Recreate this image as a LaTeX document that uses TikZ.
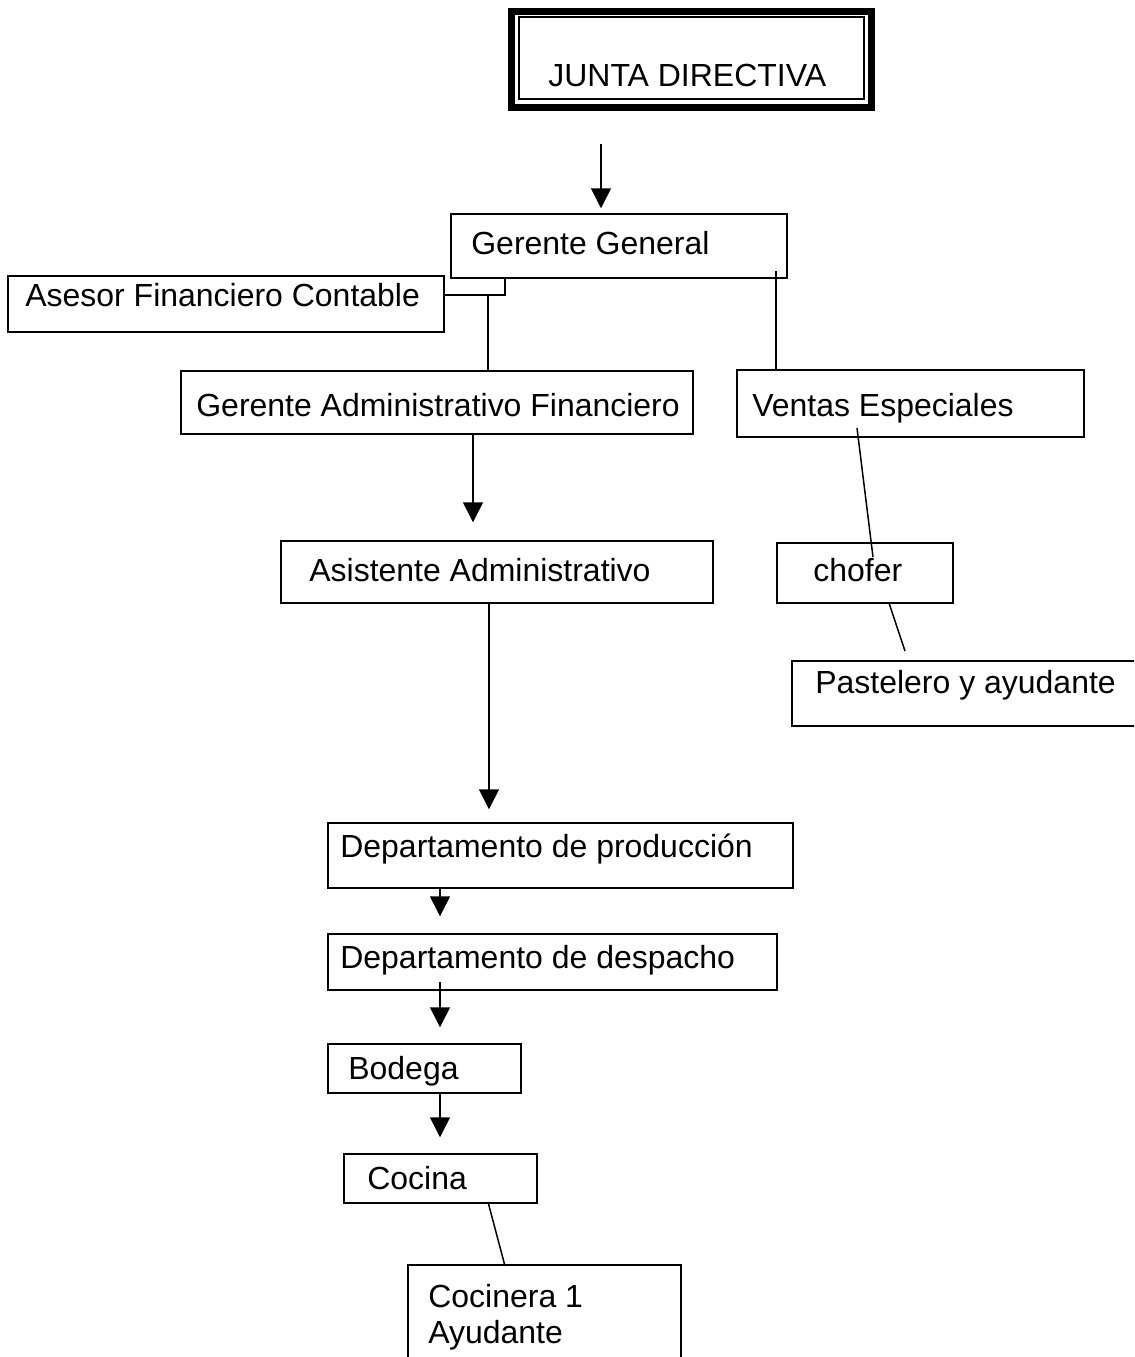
\documentclass[tikz,border=0pt]{standalone}
\usepackage{fontspec}
\setmainfont{Liberation Sans}
\usepackage{tikz}
\usetikzlibrary{positioning, fit, arrows.meta}

\tikzset{
  caja/.style={draw, rectangle, inner sep=0pt, line width=0.85pt},
  cajagruesa/.style={draw, rectangle, inner sep=0pt, line width=0.14cm},
  rotulo/.style={anchor=base west, inner sep=0pt, font=\fontsize{18.2pt}{22pt}\selectfont},
  linea/.style={line width=0.85pt},
  flecha/.style={line width=0.85pt, -{Triangle[width=0.4cm,length=0.4cm]}}
}

\begin{document}
\begin{tikzpicture}[x=0.02cm, y=-0.02cm]
\useasboundingbox (0,0) rectangle (1134,1357);
\clip (0,0) rectangle (1134,1357);

% the board, thick frame with a thin one inside
\node[cajagruesa, fit={(511,11) (871,107)}] (jdmarco) {};
\node[caja, fit={(519,17) (864,99)}] (jd) {};
\node[rotulo] (tjd) at (548,86) {JUNTA DIRECTIVA};

% the boxes
\node[caja, fit={(451,214) (787,278)}] (gg) {};
\node[caja, fit={(8,276) (444,332)}] (ase) {};
\node[caja, fit={(181,371) (693,434)}] (gaf) {};
\node[caja, fit={(737,370) (1084,437)}] (ven) {};
\node[caja, fit={(281,541) (713,603)}] (asi) {};
\node[caja, fit={(777,543) (953,603)}] (cho) {};
\node[caja, fit={(792,661) (1150,726)}] (pas) {};
\node[caja, fit={(328,823) (793,888)}] (dpr) {};
\node[caja, fit={(328,934) (777,990)}] (dde) {};
\node[caja, fit={(328,1044) (521,1093)}] (bod) {};
\node[caja, fit={(344,1154) (537,1203)}] (coc) {};
\node[caja, fit={(408,1265) (681,1380)}] (cna) {};

% the texts
\node[rotulo] (tgg) at (471,254) {Gerente General};
\node[rotulo] (tase) at (25,306) {Asesor Financiero Contable};
\node[rotulo] (tgaf) at (196,416) {Gerente Administrativo Financiero};
\node[rotulo] (tven) at (752,416) {Ventas Especiales};
\node[rotulo] (tasi) at (309,581) {Asistente Administrativo};
\node[rotulo] (tcho) at (813,581) {chofer};
\node[rotulo] (tpas) at (815,693) {Pastelero y ayudante};
\node[rotulo] (tdpr) at (340,857) {Departamento de producción};
\node[rotulo] (tdde) at (340,968) {Departamento de despacho};
\node[rotulo] (tbod) at (348,1079) {Bodega};
\node[rotulo] (tcoc) at (367,1189) {Cocina};
\node[rotulo] (tcna) at (428,1307) {Cocinera 1};
\node[rotulo] (tcnb) at (428,1343) {Ayudante};

% the points where the lines meet
\coordinate (jdsal) at (601,144);
\coordinate (nudo) at (505,295);
\coordinate (rama) at (488,295);
\coordinate (gvsal) at (776,271);
\coordinate (vc1) at (857,428);
\coordinate (vc2) at (873,557);
\coordinate (cp1) at (889,603);
\coordinate (cp2) at (905,651);
\coordinate (cc1) at (488,1202);
\coordinate (cc2) at (505,1266);
\coordinate (ejeA) at (473,0);
\coordinate (ejeB) at (489,0);
\coordinate (ejeC) at (440,0);

% the arrows and lines
\draw[flecha, shorten >=0.1cm] (jdsal) -- (jdsal |- gg.north);
\draw[linea] (gg.south -| nudo) -- (nudo) -- (ase.east |- nudo);
\draw[linea] (rama) -- (gaf.north -| rama);
\draw[linea] (gvsal) -- (ven.north -| gvsal);
\draw[flecha, shorten >=0.36cm] (gaf.south -| ejeA) -- (asi.north -| ejeA);
\draw[flecha, shorten >=0.26cm] (asi.south -| ejeB) -- (dpr.north -| ejeB);
\draw[flecha, shorten >=0.34cm] (dpr.south -| ejeC) -- (dde.north -| ejeC);
\draw[flecha, shorten <=-0.18cm, shorten >=0.32cm] (dde.south -| ejeC) -- (bod.north -| ejeC);
\draw[flecha, shorten >=0.32cm] (bod.south -| ejeC) -- (coc.north -| ejeC);
\draw[linea] (vc1) -- (vc2);
\draw[linea] (cp1) -- (cp2);
\draw[linea] (cc1) -- (cc2);
\end{tikzpicture}
\end{document}
